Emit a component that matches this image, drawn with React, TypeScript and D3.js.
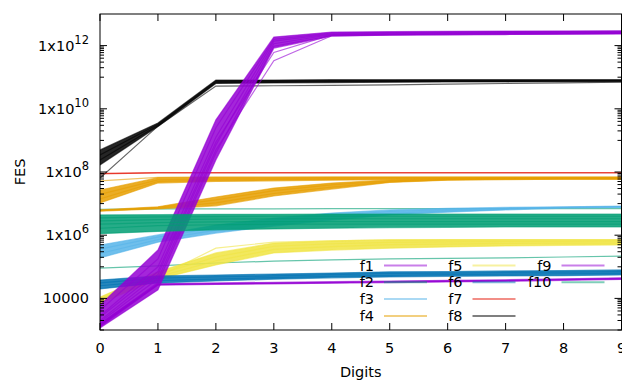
import React from 'react';
import * as d3 from 'd3';

// x axis: number of digits
const DIGITS = [0, 1, 2, 3, 4, 5, 6, 7, 8, 9];

// y axis ticks (log scale)
const Y_TICK_VALUES = [1e4, 1e6, 1e8, 1e10, 1e12];
const Y_TICK_BASE = ['10000', '1x10', '1x10', '1x10', '1x10'];
const Y_TICK_EXP = ['', '6', '8', '10', '12'];

// FES per run, one row per run, one value per digit count
const f1Runs = [
  [1.6e3, 2.95e4, 3.09e4, 3.24e4, 3.39e4, 3.55e4, 3.72e4, 3.89e4, 4.17e4, 4.47e4],
  [1.41e3, 2.75e4, 2.88e4, 3.02e4, 3.16e4, 3.31e4, 3.47e4, 3.63e4, 3.89e4, 4.17e4],
  [1.26e3, 2.63e4, 2.75e4, 2.88e4, 3.02e4, 3.16e4, 3.31e4, 3.47e4, 3.72e4, 3.98e4],
];
const f2Runs = [
  [6.61e6, 6.76e6, 6.76e6, 6.76e6, 6.92e6, 6.92e6, 6.92e6, 6.92e6, 6.92e6, 6.92e6],
  [9.12e4, 1.07e5, 1.32e5, 1.51e5, 1.66e5, 1.78e5, 1.86e5, 1.91e5, 2.04e5, 2.19e5],
];
const f3Runs = [
  [4.9e5, 1.02e6, 2.09e6, 3.47e6, 5.01e6, 6.31e6, 7.08e6, 7.59e6, 7.94e6, 8.32e6],
  [3.63e5, 8.71e5, 1.74e6, 2.88e6, 4.27e6, 5.62e6, 6.46e6, 7.08e6, 7.59e6, 7.94e6],
  [2.63e5, 7.24e5, 1.45e6, 2.4e6, 3.63e6, 4.9e6, 5.89e6, 6.61e6, 7.41e6, 7.76e6],
  [1.91e5, 6.03e5, 1.17e6, 1.95e6, 3.02e6, 4.37e6, 5.37e6, 6.31e6, 7.24e6, 7.59e6],
];
const f4RunsA = [
  [2.69e7, 6.61e7, 6.76e7, 6.76e7, 6.92e7, 6.92e7, 6.92e7, 6.92e7, 6.92e7, 6.92e7],
  [1.95e7, 5.62e7, 6.03e7, 6.17e7, 6.31e7, 6.46e7, 6.46e7, 6.61e7, 6.61e7, 6.61e7],
  [1.41e7, 5.01e7, 5.5e7, 5.75e7, 5.89e7, 6.03e7, 6.17e7, 6.31e7, 6.31e7, 6.31e7],
  [1.05e7, 4.47e7, 5.01e7, 5.25e7, 5.5e7, 5.75e7, 5.89e7, 6.03e7, 6.03e7, 6.03e7],
];
const f4RunsB = [
  [6.31e6, 7.94e6, 1.62e7, 3.09e7, 4.47e7, 5.62e7, 6.03e7, 6.17e7, 6.31e7, 6.31e7],
  [6.17e6, 7.59e6, 1.32e7, 2.57e7, 3.89e7, 5.25e7, 5.89e7, 6.03e7, 6.17e7, 6.17e7],
  [6.03e6, 7.24e6, 1.05e7, 2.09e7, 3.31e7, 4.9e7, 5.62e7, 5.89e7, 6.03e7, 6.03e7],
  [5.75e6, 6.76e6, 8.51e6, 1.74e7, 2.88e7, 4.68e7, 5.5e7, 5.75e7, 5.89e7, 5.89e7],
];
const f4Stray = [
  [5.25e7, 6.76e7, 6.92e7, 6.92e7, 6.92e7, 6.92e7, 6.92e7, 6.92e7, 6.92e7, 6.92e7],
];
const f5Runs = [
  [1.1e4, 6.92e4, 2.75e5, 5.62e5, 6.61e5, 7.08e5, 7.24e5, 7.24e5, 7.24e5, 7.24e5],
  [9.55e3, 5.75e4, 2.04e5, 4.47e5, 5.37e5, 5.89e5, 6.17e5, 6.31e5, 6.31e5, 6.46e5],
  [8.32e3, 4.79e4, 1.55e5, 3.55e5, 4.37e5, 5.01e5, 5.25e5, 5.5e5, 5.62e5, 5.62e5],
  [7.08e3, 4.07e4, 1.15e5, 2.75e5, 3.39e5, 3.89e5, 4.27e5, 4.57e5, 4.79e5, 4.9e5],
];
const f5Stray = [
  [9.55e3, 4.79e4, 3.89e5, 6.03e5, 6.61e5, 7.08e5, 7.08e5, 7.08e5, 7.08e5, 7.08e5],
];
const f6Runs = [
  [3.8e4, 5.13e4, 5.5e4, 5.89e4, 6.31e4, 6.92e4, 7.08e4, 7.41e4, 7.59e4, 7.94e4],
  [3.09e4, 4.37e4, 4.79e4, 5.13e4, 5.62e4, 6.17e4, 6.31e4, 6.61e4, 6.76e4, 7.08e4],
  [2.51e4, 3.63e4, 4.07e4, 4.57e4, 5.01e4, 5.37e4, 5.62e4, 5.89e4, 6.03e4, 6.17e4],
  [2.0e4, 3.09e4, 3.55e4, 4.07e4, 4.47e4, 4.79e4, 5.01e4, 5.13e4, 5.25e4, 5.5e4],
];
const f7Runs = [
  [8.71e7, 9.33e7, 9.33e7, 9.33e7, 9.33e7, 9.33e7, 9.33e7, 9.33e7, 9.33e7, 9.33e7],
  [9.12e7, 9.55e7, 9.55e7, 9.55e7, 9.55e7, 9.55e7, 9.55e7, 9.55e7, 9.55e7, 9.55e7],
];
const f8Runs = [
  [5.01e8, 3.55e9, 8.13e10, 8.13e10, 8.32e10, 8.32e10, 8.32e10, 8.32e10, 8.32e10, 8.32e10],
  [3.47e8, 3.24e9, 7.41e10, 7.59e10, 7.76e10, 7.76e10, 7.94e10, 7.94e10, 7.94e10, 7.94e10],
  [2.4e8, 2.95e9, 6.76e10, 7.08e10, 7.24e10, 7.24e10, 7.41e10, 7.41e10, 7.59e10, 7.59e10],
  [1.66e8, 2.75e9, 6.31e10, 6.61e10, 6.76e10, 6.92e10, 7.08e10, 7.08e10, 7.24e10, 7.24e10],
];
const f8Stray = [
  [6.46e7, 2.82e9, 5.25e10, 5.37e10, 5.5e10, 5.75e10, 6.03e10, 6.31e10, 6.61e10, 6.92e10],
];
const f9Runs = [
  [6.17e3, 3.39e5, 4.47e9, 1.86e12, 2.69e12, 2.75e12, 2.82e12, 2.88e12, 2.88e12, 2.95e12],
  [4.17e3, 1.78e5, 2.51e9, 1.58e12, 2.51e12, 2.63e12, 2.69e12, 2.75e12, 2.82e12, 2.82e12],
  [2.82e3, 1.0e5, 1.26e9, 1.38e12, 2.34e12, 2.51e12, 2.57e12, 2.63e12, 2.69e12, 2.69e12],
  [2.0e3, 5.62e4, 7.08e8, 1.15e12, 2.24e12, 2.4e12, 2.45e12, 2.51e12, 2.57e12, 2.57e12],
  [1.51e3, 3.16e4, 3.98e8, 9.55e11, 2.09e12, 2.24e12, 2.29e12, 2.34e12, 2.4e12, 2.45e12],
  [1.15e3, 1.86e4, 2.4e8, 8.32e11, 2.0e12, 2.14e12, 2.19e12, 2.24e12, 2.29e12, 2.34e12],
];
const f9Stray = [
  [2.51e3, 7.08e4, 8.91e8, 6.03e11, 2.19e12, 2.29e12, 2.34e12, 2.4e12, 2.45e12, 2.51e12],
  [1.78e3, 4.17e4, 5.01e8, 3.31e11, 2.04e12, 2.19e12, 2.24e12, 2.29e12, 2.34e12, 2.4e12],
];
const f10Runs = [
  [4.37e6, 4.47e6, 4.57e6, 4.57e6, 4.68e6, 4.68e6, 4.68e6, 4.68e6, 4.68e6, 4.68e6],
  [3.55e6, 3.8e6, 3.89e6, 3.98e6, 3.98e6, 3.98e6, 3.98e6, 3.98e6, 3.98e6, 3.98e6],
  [2.82e6, 3.09e6, 3.24e6, 3.31e6, 3.31e6, 3.31e6, 3.31e6, 3.31e6, 3.31e6, 3.31e6],
  [2.24e6, 2.51e6, 2.63e6, 2.69e6, 2.69e6, 2.69e6, 2.69e6, 2.69e6, 2.69e6, 2.69e6],
  [1.66e6, 2.0e6, 2.14e6, 2.24e6, 2.24e6, 2.24e6, 2.24e6, 2.24e6, 2.24e6, 2.24e6],
  [1.12e6, 1.32e6, 1.48e6, 1.58e6, 1.66e6, 1.74e6, 1.78e6, 1.82e6, 1.82e6, 1.82e6],
];

const SERIES_NAMES = ['f1', 'f2', 'f3', 'f4', 'f5', 'f6', 'f7', 'f8', 'f9', 'f10'];
const SERIES_COLORS = ['#9400d3', '#009e73', '#56b4e9', '#e69f00', '#f0e442', '#0072b2', '#e51e10', '#000000', '#9400d3', '#009e73'];

// bundles are filled between their lowest and highest run, strays are plain lines
const SERIES = [
  { bundles: [f1Runs], strays: [] as number[][] },
  { bundles: [], strays: f2Runs },
  { bundles: [f3Runs], strays: [] },
  { bundles: [f4RunsA, f4RunsB], strays: f4Stray },
  { bundles: [f5Runs], strays: f5Stray },
  { bundles: [f6Runs], strays: [] },
  { bundles: [f7Runs], strays: [] },
  { bundles: [f8Runs], strays: f8Stray },
  { bundles: [f9Runs], strays: f9Stray },
  { bundles: [f10Runs], strays: [] },
];

const FONT = '"DejaVu Sans", sans-serif';

export default function App() {
  const left = 100, right = 621.5, top = 14, bottom = 330;
  const x = d3.scaleLinear().domain([0, 9]).range([left, right]);
  const y = d3.scaleLog().domain([1e3, 1e13]).range([bottom, top]);

  const line = d3.line<number>().x((_, i) => x(DIGITS[i])).y(d => y(d));
  const envelope = (runs: number[][]) =>
    d3.area<number>()
      .x((_, i) => x(DIGITS[i]))
      .y0((_, i) => y(d3.min(runs, r => r[i]) as number))
      .y1((_, i) => y(d3.max(runs, r => r[i]) as number))(runs[0]) || '';

  // minor ticks sit in the decade just under each labelled tick
  const minorTicks = [3, 5, 7, 9, 11].flatMap(e => d3.range(1, 10).map(k => k * Math.pow(10, e)));

  const legendRight = [374, 462.5, 551.5];

  return (
    <svg width={622} height={381} style={{ position: 'absolute', left: 0, top: 0 }} fontFamily={FONT}>
      <defs>
        <clipPath id="plot-area">
          <rect x={left} y={top} width={right - left} height={bottom - top} />
        </clipPath>
      </defs>

      <g clipPath="url(#plot-area)">
        {SERIES.map((s, si) => (
          <g key={SERIES_NAMES[si]}>
            {s.bundles.map((b, bi) => (
              <path key={'b' + bi} d={envelope(b)} fill={SERIES_COLORS[si]} fillOpacity={0.85} />
            ))}
            {[...s.bundles.flat(), ...s.strays].map((run, ri) => (
              <path key={'r' + ri} d={line(run) || ''} fill="none"
                stroke={SERIES_COLORS[si]} strokeWidth={1.2} strokeOpacity={0.6} />
            ))}
          </g>
        ))}
      </g>

      {/* border */}
      <rect x={left} y={top} width={right - left} height={bottom - top} fill="none" stroke="#000" strokeWidth={1} />

      {/* x ticks */}
      {DIGITS.map(d => (
        <g key={'x' + d}>
          <line x1={x(d)} x2={x(d)} y1={bottom} y2={bottom - 7} stroke="#000" />
          <line x1={x(d)} x2={x(d)} y1={top} y2={top + 7} stroke="#000" />
          <text x={x(d)} y={348} textAnchor="middle" dominantBaseline="central" fontSize={14.5}>{d}</text>
        </g>
      ))}

      {/* y ticks */}
      {minorTicks.map((v, i) => (
        <g key={'m' + i}>
          <line x1={left} x2={left + 4} y1={y(v)} y2={y(v)} stroke="#000" />
          <line x1={right} x2={right - 4} y1={y(v)} y2={y(v)} stroke="#000" />
        </g>
      ))}
      {Y_TICK_VALUES.map((v, i) => (
        <g key={'y' + i}>
          <line x1={left} x2={left + 7} y1={y(v)} y2={y(v)} stroke="#000" />
          <line x1={right} x2={right - 7} y1={y(v)} y2={y(v)} stroke="#000" />
          <text x={89} y={y(v)} textAnchor="end" dominantBaseline="central" fontSize={14.5}>
            <tspan>{Y_TICK_BASE[i]}</tspan>
            {Y_TICK_EXP[i] && <tspan dy={-6} fontSize={11.5}>{Y_TICK_EXP[i]}</tspan>}
          </text>
        </g>
      ))}

      {/* axis titles */}
      <text x={(left + right) / 2} y={372} textAnchor="middle" dominantBaseline="central" fontSize={14.5}>Digits</text>
      <text transform={`translate(20,${(top + bottom) / 2}) rotate(-90)`} textAnchor="middle" dominantBaseline="central" fontSize={14.5}>FES</text>

      {/* legend */}
      {SERIES_NAMES.map((name, i) => {
        const col = Math.floor(i / 4), row = i % 4;
        const ly = 265.5 + row * 16.8;
        const tx = legendRight[col];
        return (
          <g key={'l' + name}>
            <text x={tx} y={ly} textAnchor="end" dominantBaseline="central" fontSize={14.5}>{name}</text>
            <line x1={tx + 10} x2={tx + 53} y1={ly} y2={ly} stroke={SERIES_COLORS[i]} strokeWidth={2} strokeOpacity={0.5} />
          </g>
        );
      })}
    </svg>
  );
}
